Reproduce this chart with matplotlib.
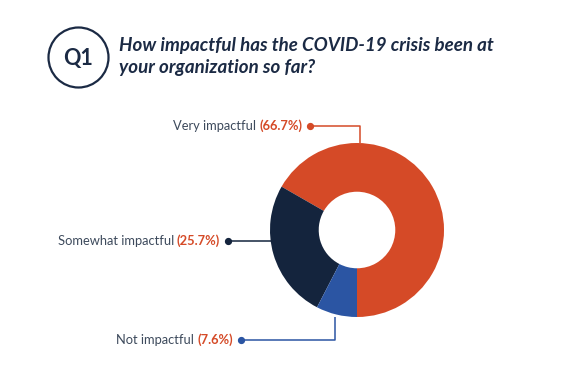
import matplotlib
matplotlib.use("Agg")
import matplotlib.pyplot as plt
from matplotlib.patches import Circle

categories = ["Very impactful", "Somewhat impactful", "Not impactful"]
values = [66.7, 25.7, 7.6]
pct_labels = ["(66.7%)", "(25.7%)", "(7.6%)"]
colors = ["#D54A27", "#14243D", "#2B55A3"]
title_lines = ["How impactful has the COVID-19 crisis been at", "your organization so far?"]
badge = "Q1"

W, H = 577, 376
fig = plt.figure(figsize=(W / 100, H / 100), dpi=100)
ax = fig.add_axes([0, 0, 1, 1])

def Y(y):
    return H - y

cx, cy, R = 357, 230, 87
ax.pie(values, colors=colors, startangle=-90, counterclock=True,
       radius=R, center=(cx, Y(cy)),
       wedgeprops=dict(width=R * 0.56, linewidth=0))
ax.set_xlim(0, W)
ax.set_ylim(0, H)
ax.set_aspect("equal")
ax.axis("off")

# badge
ax.add_patch(Circle((78.5, Y(57.5)), 30, fill=False, ec="#1B2A44", lw=1.6))
ax.text(78.5, Y(58.5), badge, ha="center", va="center", fontsize=15.5, fontweight="bold",
        family="Lato", color="#1B2A44")
for i, line in enumerate(title_lines):
    ax.text(119, Y(45 + i * 23), line, ha="left", va="center", fontsize=13.5,
            fontstyle="italic", fontweight="bold", family="Lato", color="#1B2A44")

# leader lines: (dot x, dot y, path points, text end x)
leaders = [
    (310, 126, [(310, 126), (360, 126), (360, 143)], 302),
    (228, 241, [(228, 241), (272, 241)], 220),
    (241, 340, [(241, 340), (335, 340), (335, 317)], 233),
]
fig.canvas.draw()
renderer = fig.canvas.get_renderer()
for i, (dx, dy, pts, tx) in enumerate(leaders):
    c = colors[i]
    ax.plot([p[0] for p in pts], [Y(p[1]) for p in pts], color=c, lw=1.1,
            solid_capstyle="butt")
    ax.plot(dx, Y(dy), "o", color=c, ms=4.2)
    t = ax.text(tx, Y(dy), pct_labels[i], ha="right", va="center", fontsize=9.3,
                family="Lato", fontweight="bold", color="#D54A27")
    bb = t.get_window_extent(renderer)
    x0 = ax.transData.inverted().transform((bb.x0, 0))[0]
    ax.text(x0 - 3, Y(dy), categories[i], ha="right", va="center", fontsize=9.3,
            family="Lato", color="#3D4A5C")

fig.savefig("out.png", dpi=100)
